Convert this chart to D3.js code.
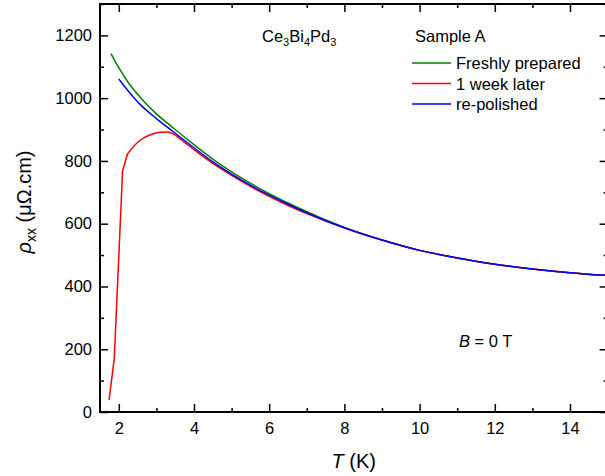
<!DOCTYPE html>
<html><head><meta charset="utf-8">
<script src="https://cdn.jsdelivr.net/npm/d3@7"></script>
<style>
body{margin:0;background:#fff;}
text{font-family:"Liberation Sans",Arial,sans-serif;fill:#000;}
</style></head>
<body>
<svg id="c" width="605" height="476"></svg>
<script>
// Temperatures (K) and resistivity (µΩ·cm)
const freshT   = [1.79, 2.0, 2.25, 2.56, 3.0, 3.45, 4.0, 4.5, 5.0, 5.5, 6.0, 6.5, 7.0, 8.0, 9.0, 10.0, 11.0, 12.0, 13.0, 14.0, 15.0];
const freshRho = [1142, 1097, 1050, 1004, 950, 905, 852, 806, 765, 729, 696, 666, 638, 588, 548, 515, 491, 471, 456, 444, 435];
const weekLowT   = [1.74, 1.88, 2.1, 2.23];
const weekLowRho = [38, 171, 767, 822];
const weekT    = [2.23, 2.35, 2.52, 2.7, 2.9, 3.1, 3.3, 3.45, 3.7, 4.0, 4.5, 5.0, 5.5, 6.0, 6.5, 7.0, 8.0, 9.0, 10.0, 11.0, 12.0, 13.0, 14.0, 15.0];
const weekRho  = [822, 840, 861, 876, 886, 891, 892, 886, 864, 836, 792, 754, 719, 687, 658, 632, 586, 548, 515, 491, 471, 456, 444, 435];
const polT     = [2.0, 2.25, 2.56, 3.0, 3.45, 4.0, 4.5, 5.0, 5.5, 6.0, 6.5, 7.0, 8.0, 9.0, 10.0, 11.0, 12.0, 13.0, 14.0, 15.0];
const polRho   = [1061, 1023, 981, 935, 893, 842, 797, 758, 723, 691, 662, 635, 587, 548, 515, 491, 471, 456, 444, 435];
const seriesNames  = ["Freshly prepared", "1 week later", "re-polished"];
const seriesColors = ["#008000", "#ff0000", "#0000ff"];
const xTicks = [2, 4, 6, 8, 10, 12, 14];
const xMinor = [3, 5, 7, 9, 11, 13, 15];
const yTicks = [0, 200, 400, 600, 800, 1000, 1200];
const yMinor = [100, 300, 500, 700, 900, 1100, 1300];

const svg = d3.select("#c");
const L = 100, R = 607.6, T = 4, B = 412;
const x = d3.scaleLinear().domain([1.5, 15]).range([L, R]);
const y = d3.scaleLinear().domain([0, 1300]).range([B, T]);

const fs = "16.5px";
function styleAx(g){ g.select(".domain").remove(); g.selectAll("line").attr("stroke","#000").attr("stroke-width",1.5); g.selectAll("text").style("font-size",fs).attr("font-family","Liberation Sans, Arial, sans-serif"); }
svg.append("g").attr("transform",`translate(0,${B})`).call(d3.axisBottom(x).tickValues(xTicks).tickSize(-8).tickPadding(10).tickFormat(d3.format("d"))).call(styleAx);
svg.append("g").attr("transform",`translate(0,${B})`).call(d3.axisBottom(x).tickValues(xMinor).tickSize(-4).tickFormat("")).call(styleAx);
svg.append("g").attr("transform",`translate(0,${T})`).call(d3.axisTop(x).tickValues(xTicks).tickSize(-8).tickFormat("")).call(styleAx);
svg.append("g").attr("transform",`translate(0,${T})`).call(d3.axisTop(x).tickValues(xMinor).tickSize(-4).tickFormat("")).call(styleAx);
svg.append("g").attr("transform",`translate(${L},0)`).call(d3.axisLeft(y).tickValues(yTicks).tickSize(-8).tickPadding(8).tickFormat(d3.format("d"))).call(styleAx);
svg.append("g").attr("transform",`translate(${L},0)`).call(d3.axisLeft(y).tickValues(yMinor).tickSize(-4).tickFormat("")).call(styleAx);
svg.append("g").attr("transform",`translate(${R},0)`).call(d3.axisRight(y).tickValues(yTicks).tickSize(-8).tickFormat("")).call(styleAx);
svg.append("g").attr("transform",`translate(${R},0)`).call(d3.axisRight(y).tickValues(yMinor).tickSize(-4).tickFormat("")).call(styleAx);

svg.append("rect").attr("x",L).attr("y",T).attr("width",R-L).attr("height",B-T)
  .attr("fill","none").attr("stroke","#000").attr("stroke-width",2);

// curves
const smooth = d3.line().x(d=>x(d[0])).y(d=>y(d[1])).curve(d3.curveMonotoneX);
const straight = d3.line().x(d=>x(d[0])).y(d=>y(d[1]));
function draw(d, gen, col){
  svg.append("path").datum(d).attr("d",gen).attr("fill","none")
    .attr("stroke",col).attr("stroke-width",1.5).attr("stroke-linejoin","round");
}
draw(d3.zip(freshT, freshRho), smooth, seriesColors[0]);
draw(d3.zip(weekLowT, weekLowRho), straight, seriesColors[1]);
draw(d3.zip(weekT, weekRho), smooth, seriesColors[1]);
draw(d3.zip(polT, polRho), smooth, seriesColors[2]);

// legend
seriesNames.forEach((n,i)=>{
  const yy = 63 + i*20.5;
  svg.append("line").attr("x1",412).attr("x2",451).attr("y1",yy).attr("y2",yy).attr("stroke",seriesColors[i]).attr("stroke-width",1.5);
  svg.append("text").attr("x",456).attr("y",yy+6).style("font-size",fs).text(n);
});
svg.append("text").attr("x",415).attr("y",42).style("font-size",fs).text("Sample A");

const ct = svg.append("text").attr("x",262).attr("y",42).style("font-size",fs);
ct.append("tspan").text("Ce");
ct.append("tspan").attr("dy",4).style("font-size","11px").text("3");
ct.append("tspan").attr("dy",-4).text("Bi");
ct.append("tspan").attr("dy",4).style("font-size","11px").text("4");
ct.append("tspan").attr("dy",-4).text("Pd");
ct.append("tspan").attr("dy",4).style("font-size","11px").text("3");

const bt = svg.append("text").attr("x",459).attr("y",347).style("font-size",fs);
bt.append("tspan").style("font-style","italic").text("B");
bt.append("tspan").text(" = 0 T");

const xt = svg.append("text").attr("x",(L+R)/2).attr("y",468).attr("text-anchor","middle").style("font-size","20px");
xt.append("tspan").style("font-style","italic").text("T");
xt.append("tspan").text(" (K)");

const yt = svg.append("text").attr("transform","translate(31,202) rotate(-90)").attr("text-anchor","middle").style("font-size","20px");
yt.append("tspan").style("font-style","italic").text("ρ");
yt.append("tspan").attr("dy",5).style("font-size","14px").text("xx");
yt.append("tspan").attr("dy",-5).text(" (μΩ.cm)");
</script>
</body></html>
